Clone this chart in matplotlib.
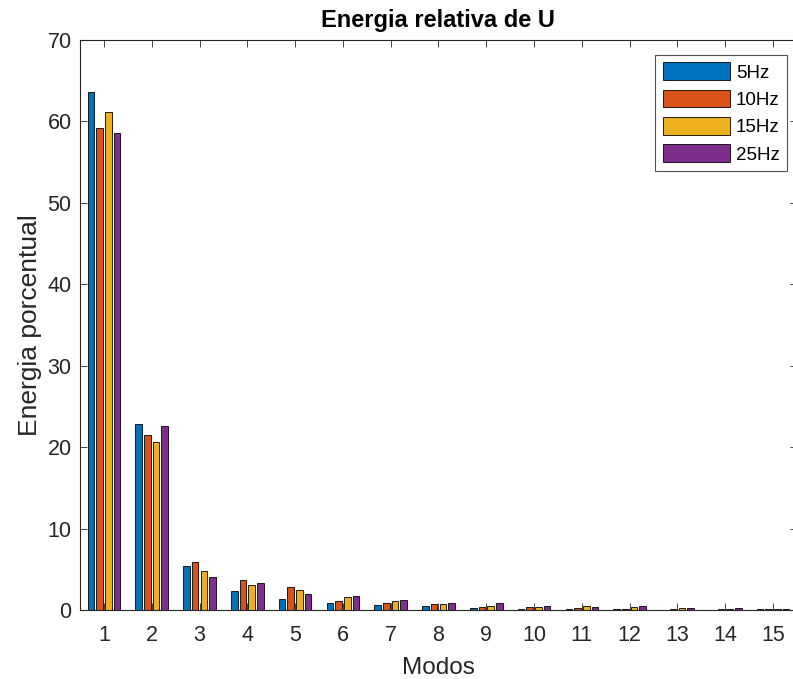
import matplotlib
matplotlib.use("Agg")
import matplotlib.pyplot as plt
import numpy as np

plt.rcParams['font.family'] = ['Liberation Sans', 'DejaVu Sans']

modes = list(range(1, 16))
series_labels = ['5Hz', '10Hz', '15Hz', '25Hz']
e5 = [63.6, 22.8, 5.4, 2.37, 1.31, 0.80, 0.65, 0.53, 0.26, 0.12, 0.15, 0.10, 0.05, 0.03, 0.08]
e10 = [59.2, 21.5, 5.9, 3.65, 2.86, 1.07, 0.86, 0.70, 0.40, 0.40, 0.30, 0.12, 0.08, 0.08, 0.10]
e15 = [61.2, 20.6, 4.75, 3.10, 2.46, 1.56, 1.07, 0.70, 0.53, 0.40, 0.45, 0.33, 0.30, 0.10, 0.15]
e25 = [58.6, 22.6, 4.05, 3.27, 1.93, 1.72, 1.23, 0.86, 0.86, 0.53, 0.40, 0.45, 0.30, 0.25, 0.15]
colors = ['#0072BD', '#D95319', '#EDB120', '#7E2F8E']
yticks = list(range(0, 71, 10))

fig = plt.figure(figsize=(7.93, 6.79), dpi=100)
ax = fig.add_axes([80/793, 69/679, 717/793, 570/679])

data = [e5, e10, e15, e25]
x = np.array(modes, dtype=float)
step = 0.182
width = 0.14
for i, (vals, c, lab) in enumerate(zip(data, colors, series_labels)):
    ax.bar(x + (i - 1.5) * step, vals, width=width, color=c, edgecolor='black',
           linewidth=0.6, label=lab, zorder=2)

ax.set_xlim(0.5, 15.5)
ax.set_ylim(0, 70)
ax.set_xticks(modes)
ax.set_yticks(yticks)
ax.tick_params(direction='in', top=True, right=True, labelsize=15.5,
               colors='#262626', length=5, width=0.6)
ax.tick_params(axis='x', pad=11)
ax.tick_params(axis='y', pad=6)
for sp in ax.spines.values():
    sp.set_color('#262626')
    sp.set_linewidth(0.8)
ax.set_xlabel('Modos', fontsize=17.5, color='#262626', labelpad=8)
ax.set_ylabel('Energia porcentual', fontsize=19, color='#262626', labelpad=4)
ax.set_title('Energia relativa de U', fontsize=17, fontweight='bold', color='black', pad=9)
leg = ax.legend(loc='upper right', bbox_to_anchor=(787/793, 1 - 55/679),
                bbox_transform=fig.transFigure, fontsize=13.5, frameon=True,
                fancybox=False, edgecolor='#262626', handlelength=3.57, handleheight=1.07,
                labelspacing=0.43, borderaxespad=0, handletextpad=0.32, borderpad=0.4)
leg.get_frame().set_linewidth(0.8)
fig.savefig('out.png', dpi=100)
